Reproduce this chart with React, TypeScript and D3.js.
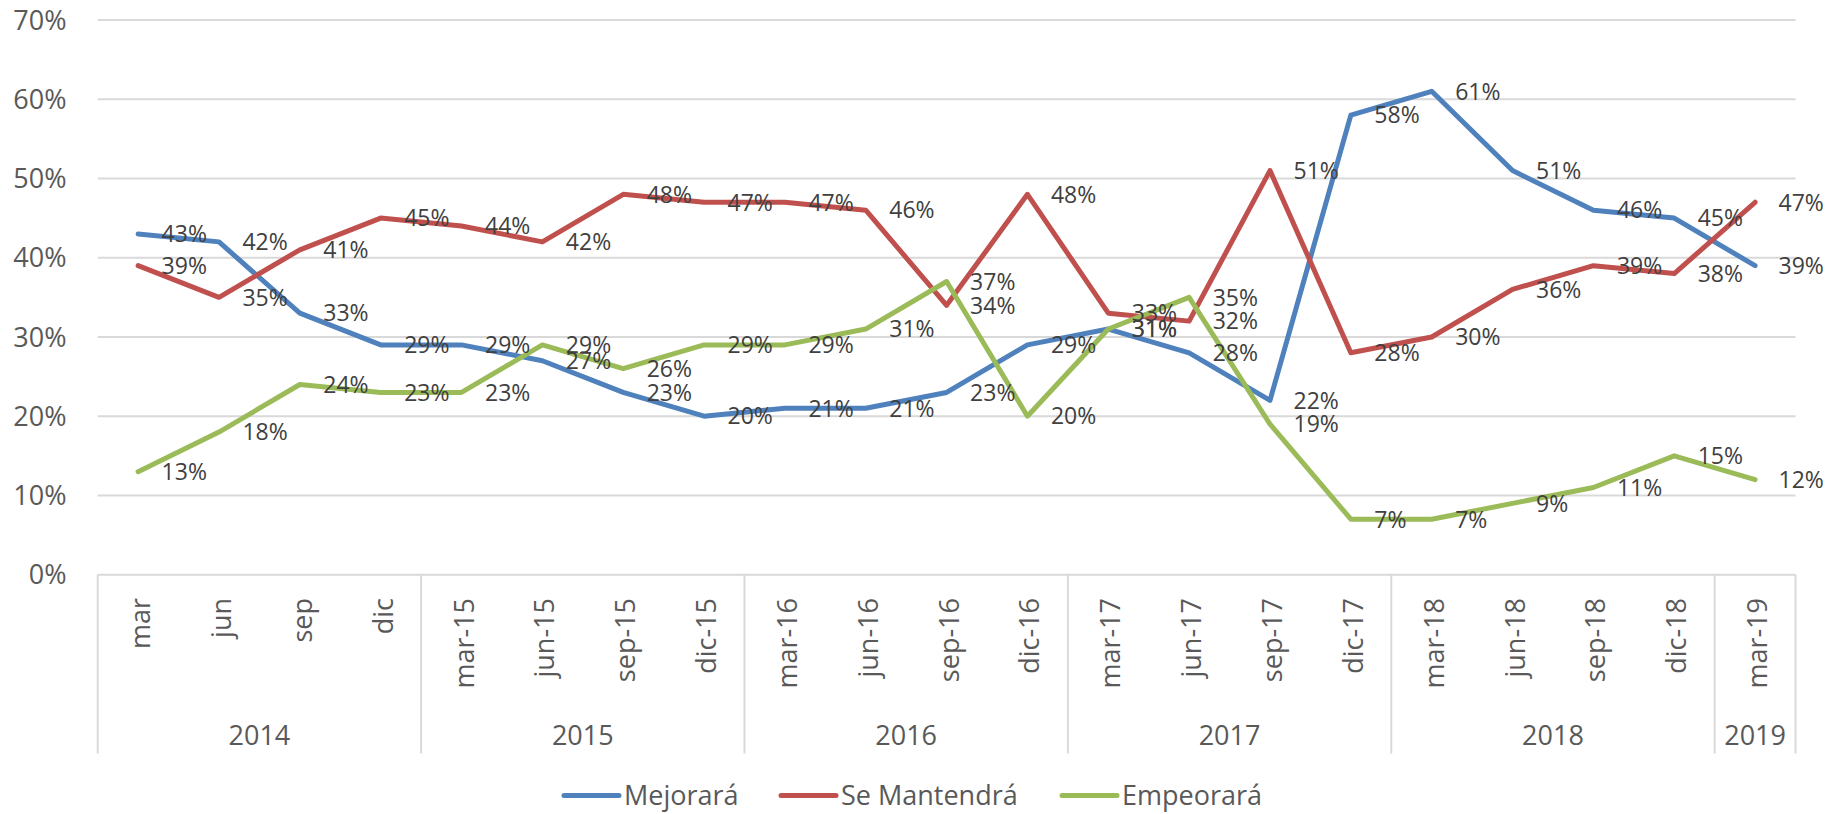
import React, { useEffect, useRef } from 'react';
import * as d3 from 'd3';

const categories = [
  'mar', 'jun', 'sep', 'dic',
  'mar-15', 'jun-15', 'sep-15', 'dic-15',
  'mar-16', 'jun-16', 'sep-16', 'dic-16',
  'mar-17', 'jun-17', 'sep-17', 'dic-17',
  'mar-18', 'jun-18', 'sep-18', 'dic-18',
  'mar-19',
];
const years = ['2014', '2015', '2016', '2017', '2018', '2019'];
const yearCounts = [4, 4, 4, 4, 4, 1];

const mejorara = [43, 42, 33, 29, 29, 27, 23, 20, 21, 21, 23, 29, 31, 28, 22, 58, 61, 51, 46, 45, 39];
const seMantendra = [39, 35, 41, 45, 44, 42, 48, 47, 47, 46, 34, 48, 33, 32, 51, 28, 30, 36, 39, 38, 47];
const empeorara = [13, 18, 24, 23, 23, 29, 26, 29, 29, 31, 37, 20, 31, 35, 19, 7, 7, 9, 11, 15, 12];

const yTicks = [0, 10, 20, 30, 40, 50, 60, 70];

const seriesNames = ['Mejorará', 'Se Mantendrá', 'Empeorará'];
const seriesColors = ['#4F81BD', '#C0504D', '#9BBB59'];

const W = 1836;
const H = 814;
const FONT = "'Open Sans', 'Liberation Sans', Arial, sans-serif";

const App = () => {
  const svgRef = useRef(null);

  useEffect(() => {
    if (!svgRef.current) return;
    const svg = d3.select(svgRef.current);
    svg.selectAll('*').remove();

    const margin = { left: 97.7, right: W - 1795.5, top: 20, bottom: H - 574.7 };
    const x = d3.scaleBand().domain(categories).range([margin.left, W - margin.right]).paddingInner(0).paddingOuter(0);
    const y = d3.scaleLinear().domain([0, 70]).range([H - margin.bottom, margin.top]);
    const cx = (c) => x(c) + x.bandwidth() / 2;

    // gridlines
    svg.append('g').selectAll('line').data(yTicks).join('line')
      .attr('x1', margin.left).attr('x2', W - margin.right)
      .attr('y1', d => y(d)).attr('y2', d => y(d))
      .attr('stroke', '#D9D9D9').attr('stroke-width', 2);

    // y labels
    svg.append('g').selectAll('text').data(yTicks).join('text')
      .attr('x', 66.5).attr('y', d => y(d))
      .attr('dy', '0.36em')
      .attr('text-anchor', 'end')
      .attr('font-family', FONT).attr('font-size', 27).attr('fill', '#595959')
      .text(d => `${d}%`);

    // category axis: group dividers
    const bounds = [0];
    yearCounts.forEach(n => bounds.push(bounds[bounds.length - 1] + n));
    const bx = (i) => i < categories.length ? x(categories[i]) : x(categories[categories.length - 1]) + x.bandwidth();
    svg.append('g').selectAll('line').data(bounds).join('line')
      .attr('x1', d => bx(d)).attr('x2', d => bx(d))
      .attr('y1', y(0)).attr('y2', 753.5)
      .attr('stroke', '#D9D9D9').attr('stroke-width', 2);

    svg.append('g').selectAll('text').data(categories).join('text')
      .attr('transform', d => `translate(${cx(d) + 12},598) rotate(-90)`)
      .attr('text-anchor', 'end')
      .attr('font-family', FONT).attr('font-size', 27).attr('fill', '#595959')
      .text(d => d);

    svg.append('g').selectAll('text').data(years).join('text')
      .attr('x', (d, i) => (bx(bounds[i]) + bx(bounds[i + 1])) / 2)
      .attr('y', 745)
      .attr('text-anchor', 'middle')
      .attr('font-family', FONT).attr('font-size', 27).attr('fill', '#595959')
      .text(d => d);

    const allSeries = [mejorara, seMantendra, empeorara];
    const line = d3.line().x((d, i) => cx(categories[i])).y(d => y(d));

    svg.append('g').selectAll('path').data(allSeries).join('path')
      .attr('d', d => line(d))
      .attr('fill', 'none')
      .attr('stroke', (d, i) => seriesColors[i])
      .attr('stroke-width', 5)
      .attr('stroke-linejoin', 'round')
      .attr('stroke-linecap', 'round');

    // data labels (right of point)
    allSeries.forEach((vals) => {
      svg.append('g').selectAll('text').data(vals).join('text')
        .attr('x', (d, i) => cx(categories[i]) + 23.5)
        .attr('y', d => y(d))
        .attr('dy', '0.36em')
        .attr('font-family', FONT).attr('font-size', 23).attr('fill', '#404040')
        .text(d => `${d}%`);
    });

    // legend
    const legendX = [564, 781, 1062];
    const legendY = 795.5;
    const lg = svg.append('g').selectAll('g').data(seriesNames).join('g')
      .attr('transform', (d, i) => `translate(${legendX[i]},${legendY})`);
    lg.append('line').attr('x1', 0).attr('x2', 55).attr('y1', 0).attr('y2', 0)
      .attr('stroke', (d, i) => seriesColors[i]).attr('stroke-width', 5).attr('stroke-linecap', 'round');
    lg.append('text').attr('x', 60).attr('y', 0).attr('dy', '0.36em')
      .attr('font-family', FONT).attr('font-size', 27).attr('fill', '#595959')
      .text(d => d);
  }, []);

  return (
    <svg ref={svgRef} width={W} height={H} viewBox={`0 0 ${W} ${H}`}
      style={{ position: 'absolute', left: 0, top: 0, display: 'block', background: '#fff' }} />
  );
};

export default App;
